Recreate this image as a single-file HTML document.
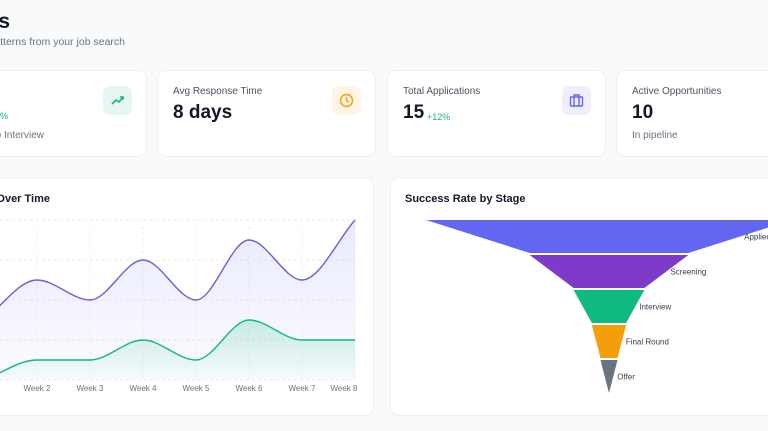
<!DOCTYPE html>
<html><head><meta charset="utf-8"><style>
*{box-sizing:border-box;margin:0;padding:0}
html,body{width:768px;height:431px;overflow:hidden}
body{background:#f9fafb;font-family:"Liberation Sans",sans-serif;position:relative;color:#111827}
.abs{position:absolute}
.card{position:absolute;background:#fff;border:1px solid #eef0f3;border-radius:9px}
.ct{position:absolute;font-size:10px;color:#4b5563}
.cv{position:absolute;font-size:19px;font-weight:bold;color:#111827}
.cs{position:absolute;font-size:10px;color:#6b7280}
.ic{position:absolute;width:29px;height:29px;border-radius:7px}
</style></head><body>
<div class="abs" style="right:758px;top:10px;font-size:21px;font-weight:bold;white-space:nowrap">Analytics</div>
<div class="abs" style="right:643px;top:36px;font-size:10.5px;color:#6b7280;white-space:nowrap">Discover patterns from your job search</div>

<div class="card" style="left:-72px;top:70px;width:219px;height:87px">
 <div class="cs" style="right:138px;top:40px;color:#10b981;font-size:9px">+5%</div>
 <div class="cs" style="right:102px;top:59px">Applied to Interview</div>
 <div class="ic" style="left:174px;top:15px;background:#e7f7f0"><svg width="29" height="29"><polyline points="9,18 13,14 16,16 20,11" fill="none" stroke="#10b981" stroke-width="1.6"/><polyline points="17,11 20,11 20,14" fill="none" stroke="#10b981" stroke-width="1.6"/></svg></div>
</div>

<div class="card" style="left:157px;top:70px;width:219px;height:87px">
 <div class="ct" style="left:15px;top:15px">Avg Response Time</div>
 <div class="cv" style="left:15px;top:31px">8 days</div>
 <div class="ic" style="left:174px;top:15px;background:#fef5e4"><svg width="29" height="29"><circle cx="14.5" cy="14.5" r="6" fill="none" stroke="#f59e0b" stroke-width="1.5"/><polyline points="14.5,11 14.5,14.5 17,16" fill="none" stroke="#f59e0b" stroke-width="1.5"/></svg></div>
</div>

<div class="card" style="left:387px;top:70px;width:219px;height:87px">
 <div class="ct" style="left:15px;top:15px">Total Applications</div>
 <div class="cv" style="left:15px;top:31px">15</div>
 <div class="cs" style="left:39px;top:41px;color:#10b981;font-size:9px">+12%</div>
 <div class="ic" style="left:174px;top:15px;background:#eeeefc"><svg width="29" height="29"><rect x="8.5" y="11" width="12" height="9" rx="1" fill="none" stroke="#6366f1" stroke-width="1.4"/><path d="M12 11V9h5v2M12 11v9M17 11v9" fill="none" stroke="#6366f1" stroke-width="1.4"/></svg></div>
</div>

<div class="card" style="left:616px;top:70px;width:152px;height:87px;border-right:none;border-radius:9px 0 0 9px">
 <div class="ct" style="left:15px;top:15px;white-space:nowrap">Active Opportunities</div>
 <div class="cv" style="left:15px;top:31px">10</div>
 <div class="cs" style="left:15px;top:59px">In pipeline</div>
</div>

<div class="card" style="left:0;top:177px;width:374px;height:239px;border-left:none;border-radius:0 9px 9px 0"></div>
<div class="abs" style="right:718px;top:193px;font-size:11px;font-weight:bold;white-space:nowrap">Applications Over Time</div>
<svg class="abs" id="lc" style="left:0;top:0" width="374" height="431"></svg>

<div class="card" style="left:390px;top:177px;width:378px;height:239px;border-right:none;border-radius:9px 0 0 9px"></div>
<div class="abs" style="left:405px;top:193px;font-size:11px;font-weight:bold">Success Rate by Stage</div>
<svg class="abs" id="fc" style="left:0;top:0" width="768" height="431"></svg>

<script>
const weeks=["Week 1","Week 2","Week 3","Week 4","Week 5","Week 6","Week 7","Week 8"];
const applications=[6,10,8,12,8,14,10,16];
const interviews=[0,2,2,4,2,6,4,4];
const yTicks=[0,4,8,12,16];
const stages=["Applied","Screening","Interview","Final Round","Offer"];
const stageValues=[15,6.5,2.9,1.4,0.7];
const stageColors=["#6366f1","#7e3bc9","#10b981","#f59e0b","#6b7280"];

const NS="http://www.w3.org/2000/svg";
function mk(p,t,a){const e=document.createElementNS(NS,t);for(const k in a)e.setAttribute(k,a[k]);p.appendChild(e);return e;}
const lc=document.getElementById('lc');
const X=i=>-16+i*53, Y=v=>380-v*10;
const defs=mk(lc,'defs',{});
function grad(id,c,o){const g=mk(defs,'linearGradient',{id:id,x1:0,y1:0,x2:0,y2:1});mk(g,'stop',{offset:0,'stop-color':c,'stop-opacity':o});mk(g,'stop',{offset:1,'stop-color':c,'stop-opacity':0.02});}
grad('gp','#6366f1',0.14);grad('gg','#10b981',0.2);
yTicks.forEach(t=>{const l=mk(lc,'line',{x1:0,x2:356,y1:Y(t),y2:Y(t),stroke:'#eceef1','stroke-dasharray':'3,3'});

});
weeks.forEach((w,i)=>{if(i==0)return;const l=mk(lc,'line',{x1:X(i),x2:X(i),y1:220,y2:380,stroke:'#f1f2f4','stroke-dasharray':'3,3'});


const t=mk(lc,'text',{x:i==7?X(i)-11:X(i),y:391,'font-size':8,fill:'#6b7280','text-anchor':'middle'});t.textContent=w;

});
function mono(pts){const n=pts.length,d=[],m=[];for(let i=0;i<n-1;i++)d.push((pts[i+1][1]-pts[i][1])/(pts[i+1][0]-pts[i][0]));
m[0]=d[0];m[n-1]=d[n-2];for(let i=1;i<n-1;i++){m[i]=d[i-1]*d[i]<=0?0:(d[i-1]+d[i])/2;}
for(let i=0;i<n-1;i++){if(d[i]==0){m[i]=0;m[i+1]=0;continue;}const a=m[i]/d[i],b=m[i+1]/d[i],s=a*a+b*b;if(s>9){const t=3/Math.sqrt(s);m[i]=t*a*d[i];m[i+1]=t*b*d[i];}}
let p='M'+pts[0][0]+','+pts[0][1];for(let i=0;i<n-1;i++){const h=(pts[i+1][0]-pts[i][0])/3;p+=` C${pts[i][0]+h},${pts[i][1]+m[i]*h} ${pts[i+1][0]-h},${pts[i+1][1]-m[i+1]*h} ${pts[i+1][0]},${pts[i+1][1]}`;}return p;}
function series(vals,c,g,name){const pts=vals.map((v,i)=>[X(i),Y(v)]);const p=mono(pts);
const a=mk(lc,'path',{d:p+` L${X(vals.length-1)},380 L${X(0)},380 Z`,fill:'url(#'+g+')'});


const l=mk(lc,'path',{d:p,fill:'none',stroke:c,'stroke-width':1.4});

}
series(applications,'#6a5fd8','gp','applications');
series(interviews,'#10b981','gg','interviews');

const fc=document.getElementById('fc');
const fcx=609,fscale=366/stageValues[0],segH=33,segGap=2,funnelTop=220;
stages.forEach((s,i)=>{const w1=stageValues[i]*fscale,w2=i<stages.length-1?stageValues[i+1]*fscale:0;const y1=funnelTop+i*(segH+segGap),y2=y1+segH;
const p=mk(fc,'polygon',{points:`${fcx-w1/2},${y1} ${fcx+w1/2},${y1} ${fcx+w2/2},${y2} ${fcx-w2/2},${y2}`,fill:stageColors[i]});


const t=mk(fc,'text',{x:fcx+(w1+w2)/4+4,y:y1+segH/2+3,'font-size':8,fill:'#374151'});t.textContent=s;

});
</script>
</body></html>
